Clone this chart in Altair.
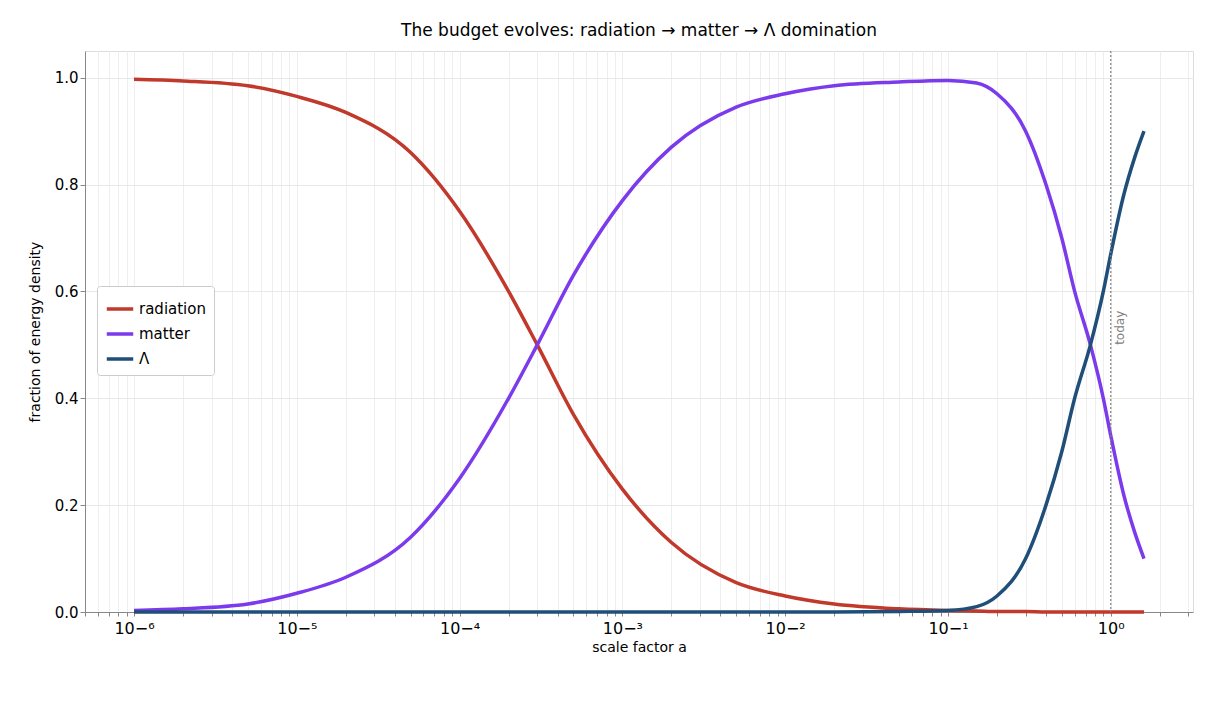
import altair as alt
import pandas as pd

a = [1e-6, 2e-6, 5e-6, 1e-5, 2e-5, 5e-5, 1e-4, 2e-4, 3e-4, 5e-4, 1e-3, 2e-3, 5e-3,
     1e-2, 2e-2, 5e-2, 0.1, 0.15, 0.2, 0.3, 0.4, 0.5, 0.6, 0.75, 0.9, 1.0, 1.2, 1.4, 1.6]
radiation = [.997, .994, .985, .965, .935, .86, .75, .6, .5, .37, .23, .13, .055,
             .03, .015, .006, .003, .002, .001, .001, 0, 0, 0, 0, 0, 0, 0, 0, 0]
matter = [.003, .006, .015, .035, .065, .14, .25, .4, .5, .63, .77, .87, .945,
          .97, .985, .992, .995, .99, .97, .9, .8, .7, .6, .5, .4, .33, .22, .15, .1]
lam = [0, 0, 0, 0, 0, 0, 0, 0, 0, 0, 0, 0, 0,
       0, 0, .001, .003, .01, .03, .1, .2, .3, .4, .5, .6, .67, .78, .85, .9]

series = ["radiation", "matter", "Λ"]
colors = ["#c0392b", "#7c3aed", "#1f4e79"]

rows = []
for name, vals in zip(series, [radiation, matter, lam]):
    for x, y in zip(a, vals):
        rows.append({"a": x, "frac": y, "component": name})
df = pd.DataFrame(rows)

tick_vals = [m * 10.0 ** e for e in range(-7, 1) for m in range(1, 10)]
tick_vals = [v for v in tick_vals if 5e-7 <= v <= 3.2]

sup = "replace(replace(replace(replace(replace(replace(replace(replace(format(round(log(datum.value)/LN10),'d'),'-','⁻'),'0','⁰'),'1','¹'),'2','²'),'3','³'),'4','⁴'),'5','⁵'),'6','⁶')"
label_expr = ("abs(datum.value/pow(10,round(log(datum.value)/LN10))-1)<1e-6 ? '10' + "
              + sup + " : ''")

x = alt.X("a:Q", scale=alt.Scale(type="log", domain=[5e-7, 3.2], nice=False),
          axis=alt.Axis(values=tick_vals, labelExpr=label_expr, title="scale factor  a",
                        labelFontSize=16, titleFontSize=14, titleFontWeight="normal",
                        gridColor="#eeeeee", tickSize=4, labelFlush=False, labelPadding=4))
y = alt.Y("frac:Q", scale=alt.Scale(domain=[0, 1.05], nice=False),
          axis=alt.Axis(values=[0, 0.2, 0.4, 0.6, 0.8, 1.0], format=".1f",
                        title="fraction of energy density", labelFontSize=15,
                        titleFontSize=14, titleFontWeight="normal", gridColor="#e8e8e8",
                        titlePadding=12))

lines = alt.Chart(df).mark_line(strokeWidth=3.5, interpolate="monotone").encode(
    x=x, y=y,
    color=alt.Color("component:N", sort=series,
                    scale=alt.Scale(domain=series, range=colors),
                    legend=alt.Legend(title=None, orient="none", legendX=12, legendY=235,
                                      labelFontSize=15, symbolType="stroke",
                                      symbolStrokeWidth=3.5, symbolSize=700,
                                      fillColor="white", strokeColor="#cccccc",
                                      padding=8, cornerRadius=3)),
)

today = pd.DataFrame({"a": [1.0], "frac": [0.5], "label": ["today"]})
rule = alt.Chart(today).mark_rule(color="gray", strokeDash=[2, 2], strokeWidth=1.2).encode(x="a:Q")
txt = alt.Chart(today).mark_text(angle=270, align="left", baseline="top", dy=4,
                                 color="gray", fontSize=12).encode(x="a:Q", y="frac:Q", text="label:N")

chart = alt.layer(lines, rule, txt).properties(
    width=1108, height=561,
    padding={"left": 20, "top": 14, "right": 5, "bottom": 5},
    title=alt.TitleParams("The budget evolves: radiation → matter → Λ domination",
                          fontSize=17, fontWeight="normal", offset=10),
).configure_view(stroke="black").configure_axis(
    domainColor="black", tickColor="black", labelColor="black", titleColor="black"
).configure(font="DejaVu Sans")

chart.save("out.html", embed_options={"renderer": "svg", "actions": False})
